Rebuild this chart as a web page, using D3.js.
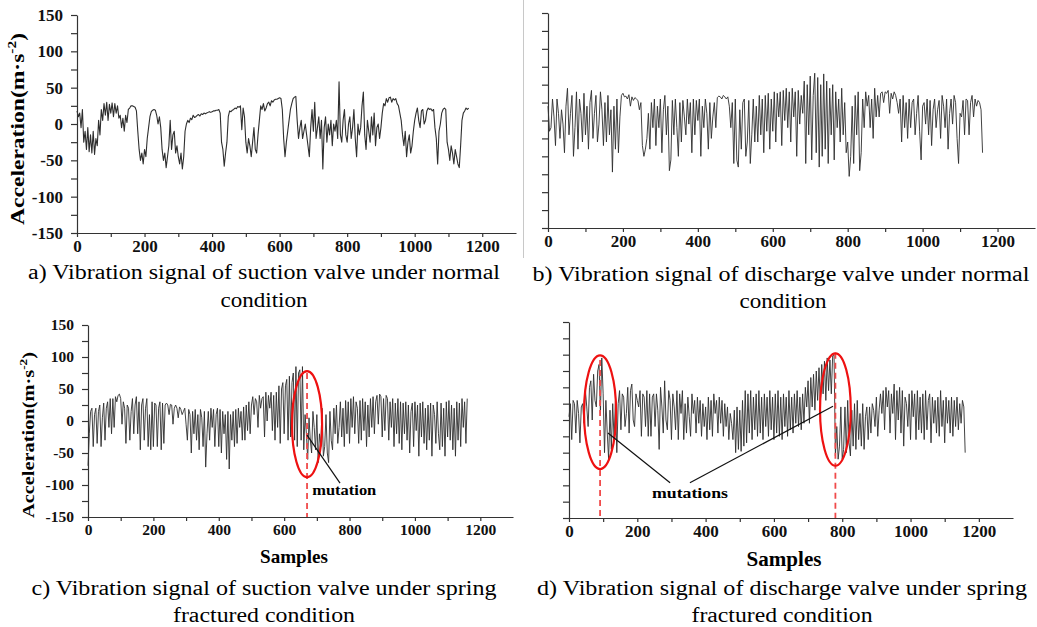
<!DOCTYPE html>
<html>
<head>
<meta charset="utf-8">
<script src="https://cdn.jsdelivr.net/npm/d3@7"></script>
<style>
  body { margin: 0; background: #fff; }
  svg { display: block; font-family: "Liberation Serif", "Times New Roman", serif; }
  .tick text { font-weight: bold; fill: #111; }
  .axis path, .axis line { stroke: #333; stroke-width: 1.2; }
</style>
</head>
<body>
<script>
// values every STEP samples
const STEP = 4;

// a) suction valve, normal
const suctionNormal = [
  18,10,15,-5,20,-25,-10,-35,-5,-38,-15,-40,-10,-42,-20,-30,5,-15,20,5,
  28,12,30,5,27,15,29,10,28,15,25,8,12,-5,8,-10,12,2,20,22,
  25,25,24,23,18,-10,-35,-50,-40,-55,-35,-45,-20,-5,10,17,19,20,19,12,
  0,10,-5,-35,-50,-40,-60,-45,-30,5,-35,-15,-10,-40,-30,-45,-55,-40,-62,-45,
  -10,0,5,2,8,6,12,9,10,12,13,11,14,13,15,14,15,16,17,16,
  17,18,18,19,19,20,15,-25,-35,-58,-40,-25,10,18,17,19,20,22,21,24,
  23,25,-8,22,10,-25,-40,-20,-30,-45,-25,-5,-35,-40,-15,5,25,20,28,18,
  22,28,30,25,32,30,33,34,34,35,36,35,20,-20,-45,-25,-10,5,20,28,
  35,37,38,5,-20,-5,5,-20,-10,0,-15,-30,-45,-5,20,-10,30,-20,-5,10,
  -20,5,-62,-5,10,-25,0,-15,5,-30,0,-10,5,-20,58,-15,-25,5,20,-15,
  -25,0,10,-20,-5,20,-20,-45,0,-15,-5,25,44,-15,-35,5,-10,-25,10,-15,
  15,-30,-5,0,-20,-5,15,28,25,35,30,36,37,30,35,33,35,28,25,15,
  5,-15,-30,-10,-45,-25,-15,-40,-30,-10,5,15,22,5,-5,18,20,0,5,18,
  22,20,21,18,20,-5,-20,-55,-10,0,15,20,22,20,-25,-35,-50,-30,-40,-55,
  -35,-45,-55,-60,-30,5,15,18,22,20,22];

// b) discharge valve, normal
const dischargeNormal = [
  20,-15,-10,30,5,-35,30,10,-25,15,-5,-45,20,45,-20,10,35,-50,-10,40,
  -40,30,10,-30,38,-20,20,-40,25,42,-25,10,35,-30,-5,40,15,-35,25,-30,
  35,-20,15,-72,20,-40,30,-45,5,35,38,33,34,30,36,20,33,28,32,30,
  28,15,25,-35,-50,-40,-25,10,-40,25,-10,30,-35,20,-10,30,-45,15,35,-20,
  20,-70,-55,28,-20,30,-10,-50,25,-30,28,5,-20,30,-5,25,-45,30,-20,28,
  0,30,-50,20,-10,30,10,-40,25,-25,5,25,-10,32,34,33,30,35,33,30,
  33,20,-10,25,-60,30,-55,-65,15,-40,25,30,-50,-30,28,-60,-20,30,-30,20,
  -30,35,-20,30,-45,35,-15,38,-40,30,-15,40,-30,38,5,40,-35,42,0,45,
  -10,40,-30,45,5,40,-50,42,-5,35,10,55,-60,50,-20,62,-55,35,66,-45,
  60,-65,50,-50,65,-40,55,-60,45,-20,50,-55,40,-10,30,-30,45,-20,25,-45,
  -30,-78,-50,20,-60,35,-20,40,-70,-45,30,-10,40,20,35,-10,30,-25,45,5,
  35,5,38,40,25,40,38,42,10,38,30,40,35,25,10,30,-30,35,-10,25,
  -25,30,-10,25,30,-20,10,35,-15,-55,20,25,-5,30,-20,28,-35,15,30,-10,
  15,28,-25,35,20,-10,30,-40,10,30,-5,35,25,-25,-60,10,5,28,-20,30,
  28,-20,25,35,5,30,20,28,25,15,-45];

// c) suction valve, spring fractured
const suctionFractured = [
  -70,-20,15,20,-40,10,20,-35,15,25,-40,5,28,-30,20,30,-10,35,-20,35,
  -10,38,30,40,42,35,-5,30,20,-35,25,20,-30,15,35,-20,25,38,-20,30,
  -45,25,35,-30,20,35,-40,10,-45,30,-40,28,25,-40,20,30,-45,28,-35,25,
  28,25,10,26,25,-5,20,25,20,5,22,18,10,15,20,-5,-30,18,10,-50,
  15,-20,18,-30,10,-45,18,5,-40,15,-72,-20,15,-30,20,-10,18,-40,10,20,
  -40,18,-50,15,-20,10,-60,15,-75,10,-30,15,-40,18,-35,20,-10,15,-30,22,
  -30,25,-15,30,-20,25,38,10,35,30,-10,40,20,35,38,-25,45,0,40,20,
  45,-15,40,-30,45,-10,55,-35,50,60,-20,55,65,-30,70,-25,60,75,-30,85,
  -40,75,80,-30,85,-45,10,-20,-60,5,-30,-50,15,-10,-45,10,-65,-20,-40,20,
  -55,-40,10,-50,-65,15,-30,-45,20,-20,25,-35,-10,30,-25,20,-40,32,-20,30,
  -35,35,-10,38,-20,30,20,-35,32,-30,35,-15,30,-40,25,-25,35,-10,38,-20,
  30,40,-5,42,38,-25,35,-15,40,35,-30,30,-10,35,-40,28,-20,35,-35,30,
  -45,28,-20,30,-30,25,-50,15,28,-40,30,-15,25,-55,28,-25,30,-35,20,-45,
  25,-30,28,-55,25,10,-35,30,-20,-45,28,-40,20,-55,30,-25,32,-30,25,-45,
  20,-55,30,-30,28,-40,35,-10,30,-35,35];

// d) discharge valve, spring fractured
const dischargeFractured = [
  5,25,-30,30,25,-20,30,10,-35,20,25,-5,45,20,-10,50,60,0,70,30,
  20,75,85,10,95,40,-50,30,-20,-60,15,-45,25,-30,30,-50,25,45,-15,40,
  35,-10,10,50,-20,45,55,0,-10,40,30,20,45,-25,40,35,-10,45,-25,40,
  -25,35,40,-10,40,15,-45,50,20,-20,60,0,-15,45,30,-30,40,20,-15,45,
  -30,40,10,45,-30,25,-20,35,5,-25,40,10,30,-20,35,-5,30,-25,25,-10,
  20,-30,35,-15,30,-25,40,10,30,-20,35,-5,30,-25,25,-10,20,-30,10,-5,
  -30,15,-50,20,-45,15,-48,30,-40,45,-35,40,-20,45,-30,35,-15,40,-25,45,
  -20,35,-30,40,-10,35,-25,45,-15,35,-30,40,-20,45,-25,35,-30,40,-10,35,
  -25,45,-15,35,-20,40,-5,45,-10,35,-15,40,-5,50,20,60,-5,65,20,70,
  15,75,30,80,25,85,40,90,30,95,45,92,40,98,100,-55,-10,-60,-40,20,
  -60,-45,20,-50,30,-35,-55,15,-40,25,-45,30,-30,10,-40,25,-45,5,20,-30,
  20,-20,25,15,-10,35,-25,15,40,10,45,-15,50,20,45,-20,40,10,55,-30,
  45,0,50,-20,45,-40,35,25,-10,40,-30,45,5,40,-30,45,-15,35,-20,40,
  -30,45,-15,30,40,-35,35,-5,30,-20,35,-25,45,-10,30,-35,35,-5,30,-20,
  35,-25,30,-10,35,-15,25,-5,30,20,-50];

const xTicks = d3.range(0, 1201, 100);
const yTicks = d3.range(-150, 151, 25);

const W = 1037, H = 627;
const svg = d3.select("body").append("svg").attr("width", W).attr("height", H);

// thin divider left of panel b
svg.append("line")
  .attr("x1", 523.5).attr("x2", 523.5).attr("y1", 0).attr("y2", 258)
  .attr("stroke", "#c8c8c8").attr("stroke-width", 1);

const panels = [
  { data: suctionNormal, x0: 77, x1: 516, top: 15, bot: 233, yLabels: true, fs: 17, sw: 1.1,
    ylab: { x: 24, cy: 129, size: 19, len: 192 }, samples: null,
    caption: [["a) Vibration signal of suction valve under normal", 264, 279, 472],
              ["condition", 264, 307, 87]] },
  { data: dischargeNormal, x0: 548, x1: 1035, top: 13, bot: 228, yLabels: false, fs: 17, sw: 0.9,
    ylab: null, samples: null,
    caption: [["b) Vibration signal of discharge valve under normal", 781, 281, 497],
              ["condition", 783, 308, 87]] },
  { data: suctionFractured, x0: 88, x1: 513, top: 325, bot: 517, yLabels: true, fs: 15.5, sw: 0.9,
    ylab: { x: 34, cy: 435, size: 17, len: 166 }, samples: { x: 294, y: 563, size: 19, len: 68 },
    caption: [["c) Vibration signal of suction valve under spring", 264, 595, 465],
              ["fractured condition", 264, 622, 182]] },
  { data: dischargeFractured, x0: 569, x1: 1013, top: 322, bot: 518, yLabels: false, fs: 17, sw: 0.9,
    ylab: null, samples: { x: 784, y: 566, size: 20, len: 75 },
    caption: [["d) Vibration signal of discharge valve under spring", 782, 595, 490],
              ["fractured condition", 782, 622, 181]] }
];

panels.forEach(p => {
  p.x = d3.scaleLinear().domain([0, 1300]).range([p.x0, p.x1]);
  p.y = d3.scaleLinear().domain([-150, 150]).range([p.bot, p.top]);

  const line = d3.line()
    .x((d, i) => p.x(i * STEP))
    .y(d => p.y(d));

  svg.append("path")
    .datum(p.data)
    .attr("fill", "none")
    .attr("stroke", "#2e2e2e")
    .attr("stroke-width", p.sw)
    .attr("stroke-linejoin", "round")
    .attr("d", line);

  const yAxis = d3.axisLeft(p.y)
    .tickValues(yTicks)
    .tickSize(6).tickSizeOuter(0).tickPadding(8)
    .tickFormat(d => (p.yLabels && d % 50 === 0) ? d : "");
  svg.append("g").attr("class", "axis")
    .attr("transform", `translate(${p.x0},0)`)
    .call(yAxis)
    .attr("font-family", null).attr("font-size", null)
    .call(g => g.selectAll("text").style("font-size", p.fs + "px"));

  const xAxis = d3.axisBottom(p.x)
    .tickValues(xTicks)
    .tickSize(4).tickSizeOuter(0).tickPadding(3)
    .tickFormat(d => d % 200 === 0 ? d : "");
  svg.append("g").attr("class", "axis")
    .attr("transform", `translate(0,${p.bot})`)
    .call(xAxis)
    .attr("font-family", null).attr("font-size", null)
    .call(g => g.selectAll("text").style("font-size", p.fs + "px"));

  if (p.ylab) {
    const t = svg.append("text")
      .attr("transform", `translate(${p.ylab.x},${p.ylab.cy}) rotate(-90)`)
      .attr("text-anchor", "middle")
      .attr("textLength", p.ylab.len)
      .attr("lengthAdjust", "spacingAndGlyphs")
      .style("font-weight", "bold")
      .style("font-size", p.ylab.size + "px");
    t.append("tspan").text("Acceleration(m·s");
    t.append("tspan").attr("dy", -p.ylab.size * 0.4).style("font-size", (p.ylab.size * 0.65) + "px").text("-2");
    t.append("tspan").attr("dy", p.ylab.size * 0.4).text(")");
  }

  if (p.samples) {
    svg.append("text")
      .attr("x", p.samples.x).attr("y", p.samples.y)
      .attr("text-anchor", "middle")
      .attr("textLength", p.samples.len)
      .attr("lengthAdjust", "spacingAndGlyphs")
      .style("font-weight", "bold")
      .style("font-size", p.samples.size + "px")
      .text("Samples");
  }

  p.caption.forEach(([txt, cx, cy, len]) => {
    svg.append("text")
      .attr("x", cx).attr("y", cy)
      .attr("text-anchor", "middle")
      .attr("textLength", len)
      .attr("lengthAdjust", "spacingAndGlyphs")
      .style("font-size", "20px")
      .text(txt);
  });
});

// annotations (data units of each panel)
const red = "#ee1111";
function mark(p, s, v, rx, ry, top) {
  svg.append("line")
    .attr("x1", p.x(s)).attr("x2", p.x(s))
    .attr("y1", p.y(top)).attr("y2", p.y(-150))
    .attr("stroke", "#f04a4a").attr("stroke-width", 1.8)
    .attr("stroke-dasharray", "6,4");
  svg.append("ellipse")
    .attr("cx", p.x(s)).attr("cy", p.y(v))
    .attr("rx", p.x(s + rx) - p.x(s))
    .attr("ry", p.y(v) - p.y(v + ry))
    .attr("fill", "none").attr("stroke", red).attr("stroke-width", 2.2);
}
function pointer(p, sA, vA, sB, vB) {
  svg.append("line")
    .attr("x1", p.x(sA)).attr("y1", p.y(vA))
    .attr("x2", p.x(sB)).attr("y2", p.y(vB))
    .attr("stroke", "#111").attr("stroke-width", 1.2);
}
function note(p, s, v, txt, size, len) {
  svg.append("text")
    .attr("x", p.x(s)).attr("y", p.y(v))
    .attr("textLength", len)
    .attr("lengthAdjust", "spacingAndGlyphs")
    .style("font-weight", "bold").style("font-size", size + "px")
    .text(txt);
}

const [pa, pb, pc, pd] = panels;
mark(pc, 670, -5, 46, 83, 75);
pointer(pc, 670, -22, 771, -97);
note(pc, 686, -116, "mutation", 14, 64);

mark(pd, 91, 12, 47, 87, 92);
mark(pd, 780, 16, 45, 86, 103);
pointer(pd, 114, -20, 296, -96);
pointer(pd, 354, -96, 773, 21);
note(pd, 243, -119, "mutations", 15, 76);
</script>
</body>
</html>
